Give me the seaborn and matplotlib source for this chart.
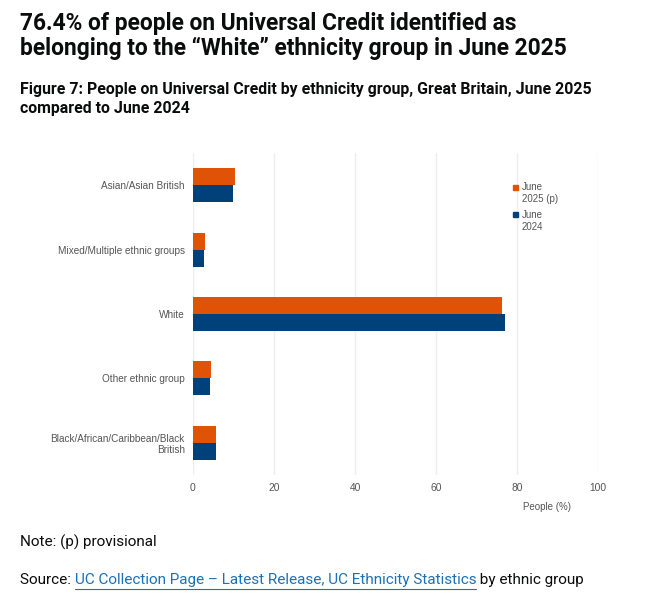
import matplotlib
matplotlib.use("Agg")
import matplotlib.pyplot as plt
import seaborn as sns
import pandas as pd

categories = ["Asian/Asian British", "Mixed/Multiple ethnic groups", "White",
              "Other ethnic group", "Black/African/Caribbean/Black\nBritish"]
series_names = ["June\n2025 (p)", "June\n2024"]
values_2025 = [10.4, 3.0, 76.4, 4.4, 5.8]
values_2024 = [9.9, 2.8, 77.0, 4.2, 5.8]
x_ticks = [0, 20, 40, 60, 80, 100]

colors = ["#E05206", "#00417A"]

df = pd.DataFrame({
    "category": categories * 2,
    "series": [series_names[0]] * len(categories) + [series_names[1]] * len(categories),
    "value": values_2025 + values_2024,
})

sns.set_theme(style="white")
plt.rcParams["font.family"] = ["Liberation Sans", "DejaVu Sans"]

fig = plt.figure(figsize=(6.46, 6.02), dpi=100)
ax = fig.add_axes([193/646, 1 - 475/602, (598-193)/646, (475-153)/602])

sns.barplot(data=df, y="category", x="value", hue="series", order=categories,
            hue_order=series_names, palette=colors, orient="h", width=0.53,
            saturation=1, linewidth=0, ax=ax, legend=False)

ax.set_xlim(0, 100)
ax.set_xticks(x_ticks)
ax.set_xticklabels([str(t) for t in x_ticks], fontsize=7.4, color="#555555")
ax.tick_params(axis="x", length=0, pad=6)
ax.tick_params(axis="y", length=0, pad=6, labelsize=7.2, labelcolor="#555555")
ax.set_ylabel("")
ax.set_xlabel("")
ax.grid(axis="x", color="#eeeeee", linewidth=1)
ax.set_axisbelow(True)
for s in ax.spines.values():
    s.set_visible(False)
ax.text(81.5, -0.1, "People (%)", transform=ax.get_xaxis_transform(),
        fontsize=7, color="#555555", ha="left", va="center")

# legend
for i, (name, col) in enumerate(zip(series_names, colors)):
    y = 1 - (187 + i * 27) / 602
    fig.patches.append(plt.Rectangle((513/646, y - 2.5/602), 5/646, 5/602,
                                     transform=fig.transFigure, color=col))
    fig.text(522/646, y + 4.5/602, name, fontsize=7, color="#555555",
             ha="left", va="top", linespacing=1.25)

# titles
fig.text(20/646, 1 - 12/602,
         "76.4% of people on Universal Credit identified as\nbelonging to the \u201cWhite\u201d ethnicity group in June 2025",
         fontsize=16.4, fontweight="bold", color="#0b0c0c", ha="left", va="top",
         linespacing=1.1, family=["Roboto", "DejaVu Sans"])
fig.text(20/646, 1 - 82/602,
         "Figure 7: People on Universal Credit by ethnicity group, Great Britain, June 2025\ncompared to June 2024",
         fontsize=11.4, fontweight="bold", color="#0b0c0c", ha="left", va="top",
         linespacing=1.35, family=["Roboto", "DejaVu Sans"])

fig.text(20/646, 1 - 542/602, "Note: (p) provisional", fontsize=11,
         color="#0b0c0c", ha="left", va="center", family=["Roboto", "DejaVu Sans"])

# source line with link
fig.canvas.draw()
r = fig.canvas.get_renderer()
ybase = 1 - 580/602
t1 = fig.text(20/646, ybase, "Source: ", fontsize=11, color="#0b0c0c",
              ha="left", va="center", family=["Roboto", "DejaVu Sans"])
bb1 = t1.get_window_extent(r)
x2 = bb1.x1 / fig.bbox.width
t2 = fig.text(x2, ybase, "UC Collection Page \u2013 Latest Release, UC Ethnicity Statistics",
              fontsize=11, color="#1d70b8", ha="left", va="center",
              family=["Roboto", "DejaVu Sans"])
bb2 = t2.get_window_extent(r)
x3 = bb2.x1 / fig.bbox.width
fig.lines.append(plt.Line2D([x2, x3], [1 - 589/602] * 2, transform=fig.transFigure,
                            color="#1d70b8", linewidth=0.8))
fig.text(x3, ybase, " by ethnic group", fontsize=11, color="#0b0c0c",
         ha="left", va="center", family=["Roboto", "DejaVu Sans"])

fig.savefig("out.png", dpi=100, facecolor="white")
